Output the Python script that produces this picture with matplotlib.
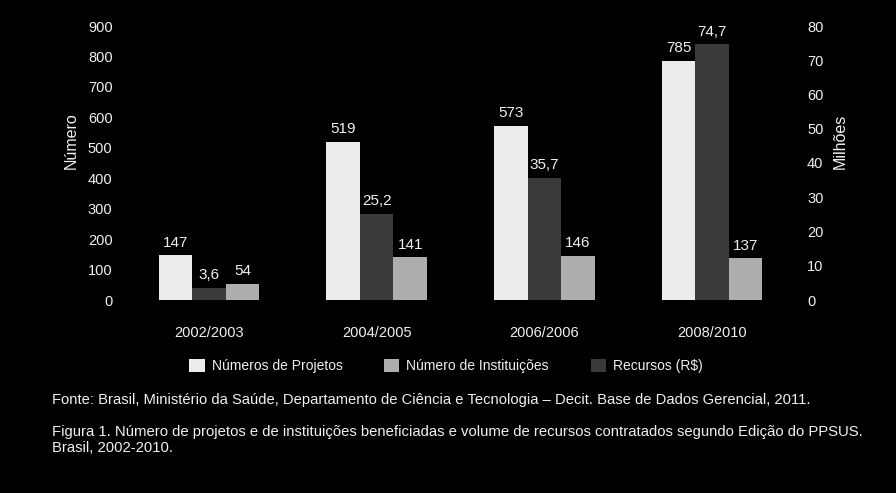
#!/usr/bin/env python

"""
plot.py draws the PPSUS projects / institutions / resources bar chart
(black background, two y axes) and saves it to out.png.
"""

import numpy as np
import matplotlib
matplotlib.use("Agg")
import matplotlib.pyplot as plt

# Data
editions = ['2002/2003', '2004/2005', '2006/2006', '2008/2010']
projetos = [147, 519, 573, 785]
instituicoes = [54, 141, 146, 137]
recursos = [3.6, 25.2, 35.7, 74.7]
recursos_labels = ['3,6', '25,2', '35,7', '74,7']

fonte = ("Fonte: Brasil, Ministério da Saúde, Departamento de Ciência e Tecnologia \u2013 "
         "Decit. Base de Dados Gerencial, 2011.")
figura = ("Figura 1. Número de projetos e de instituições beneficiadas e volume de recursos "
          "contratados segundo Edição do PPSUS.\nBrasil, 2002-2010.")

BG = 'black'
FG = '#f0f0f0'
C_PROJ = '#ececec'
C_INST = '#adadad'
C_REC = '#3a3a3a'

# no narrow font here, Liberation Sans is the closest width-wise
plt.rcParams['font.family'] = ['Liberation Sans Narrow', 'Liberation Sans', 'DejaVu Sans']
plt.rcParams['font.size'] = 10


def style_axis(ax):
    ax.set_facecolor('none')
    for s in ax.spines.values():
        s.set_visible(False)
    ax.tick_params(colors=FG, length=0, labelsize=10.5)


def label_bars(ax, bars, labels):
    for b, lab in zip(bars, labels):
        ax.annotate(lab, (b.get_x() + b.get_width() / 2, b.get_height()),
                    xytext=(0, 4), textcoords='offset points',
                    ha='center', va='bottom', color=FG, fontsize=11)


def make_chart():
    fig = plt.figure(figsize=(8.96, 4.93), dpi=100, facecolor=BG)
    ax = fig.add_axes([125 / 896, 1 - 300 / 493, 671 / 896, 274 / 493])
    ax2 = ax.twinx()
    style_axis(ax)
    style_axis(ax2)

    x = np.arange(len(editions))
    w = 0.2

    b_proj = ax.bar(x - w, projetos, w, color=C_PROJ, label='Números de Projetos')
    b_inst = ax.bar(x + w, instituicoes, w, color=C_INST, label='Número de Instituições')
    b_rec = ax2.bar(x, recursos, w, color=C_REC, label='Recursos (R$)')

    label_bars(ax, b_proj, [str(v) for v in projetos])
    label_bars(ax, b_inst, [str(v) for v in instituicoes])
    label_bars(ax2, b_rec, recursos_labels)

    ax.set_xlim(-0.5, 3.5)
    ax.set_ylim(0, 900)
    ax.set_yticks(range(0, 901, 100))
    ax2.set_ylim(0, 80)
    ax2.set_yticks(range(0, 81, 10))
    ax.set_xticks(x)
    ax.set_xticklabels(editions)
    ax.tick_params(axis='x', pad=19)
    ax.tick_params(axis='y', pad=9)
    ax2.tick_params(axis='y', pad=8)

    ax.set_ylabel('Número', color=FG, fontsize=11.5)
    ax.yaxis.set_label_coords(-0.069, 0.58)
    ax2.set_ylabel('Milhões', color=FG, fontsize=11.5, rotation=90)
    ax2.yaxis.set_label_coords(1.055, 0.58)

    handles = [b_proj, b_inst, b_rec]
    fig.legend(handles, [h.get_label() for h in handles], loc='center',
               bbox_to_anchor=(446 / 896, 1 - 366 / 493), ncol=3, frameon=False,
               labelcolor=FG, fontsize=10, handlelength=1.1, handleheight=1.1,
               handletextpad=0.5, columnspacing=3.0)

    fig.text(52 / 896, 1 - 400 / 493, fonte, color=FG, fontsize=10.6, va='center')
    fig.text(52 / 896, 1 - 440 / 493, figura, color=FG, fontsize=10.7, va='center',
             linespacing=1.1)

    fig.savefig('out.png', dpi=100, facecolor=BG)


if __name__ == "__main__":
    make_chart()
